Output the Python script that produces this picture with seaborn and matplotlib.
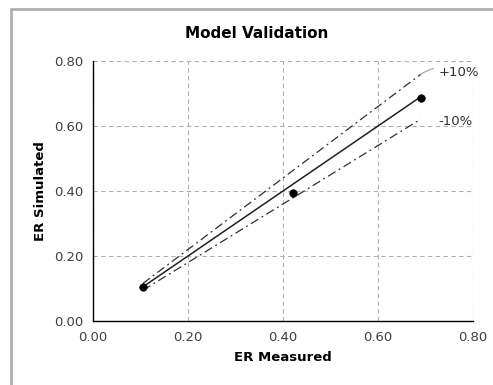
import matplotlib
matplotlib.use("Agg")
import matplotlib.pyplot as plt
import seaborn as sns
import pandas as pd
from matplotlib.patches import Rectangle

measured = [0.105, 0.42, 0.69]
simulated = [0.105, 0.395, 0.685]
line_x = [0.105, 0.69]
ticks = [0.0, 0.2, 0.4, 0.6, 0.8]
tick_labels = ["0.00", "0.20", "0.40", "0.60", "0.80"]

sns.set_style("white")
plt.rcParams['font.family'] = ['DejaVu Sans']

fig = plt.figure(figsize=(4.93, 3.85), dpi=100)
ax = fig.add_axes([93/493, 1-321/385, 380/493, 260/385])

# outer chart border
fig.patches.append(Rectangle((11/493, -0.2), 1.2, 1 - 9/385 + 0.2, transform=fig.transFigure,
                             fill=False, edgecolor="#b0b0b0", linewidth=2, zorder=-1))

df_pts = pd.DataFrame({"x": measured, "y": simulated})
df_line = pd.DataFrame({"x": line_x, "y": line_x})
df_up = pd.DataFrame({"x": line_x, "y": [v * 1.1 for v in line_x]})
df_dn = pd.DataFrame({"x": line_x, "y": [v * 0.9 for v in line_x]})

sns.lineplot(data=df_line, x="x", y="y", ax=ax, color="#202020", linewidth=1.1)
sns.lineplot(data=df_up, x="x", y="y", ax=ax, color="#303030", linewidth=0.9, linestyle=(0, (7, 3, 1.5, 3)))
sns.lineplot(data=df_dn, x="x", y="y", ax=ax, color="#303030", linewidth=0.9, linestyle=(0, (7, 3, 1.5, 3)))
sns.scatterplot(data=df_pts, x="x", y="y", ax=ax, color="black", s=30, edgecolor="black", zorder=5)

ax.set_xlim(0, 0.8)
ax.set_ylim(0, 0.8)
ax.set_xticks(ticks)
ax.set_xticklabels(tick_labels)
ax.set_yticks(ticks)
ax.set_yticklabels(tick_labels)
ax.grid(True, color="#b0b0b0", linestyle=(0, (4, 3)), linewidth=0.8)
ax.set_axisbelow(True)
for s in ["top", "right"]:
    ax.spines[s].set_visible(False)
for s in ["left", "bottom"]:
    ax.spines[s].set_color("#000000")
    ax.spines[s].set_linewidth(1.0)
ax.tick_params(axis="both", direction="out", length=4, width=0.8, colors="#000000",
               labelcolor="#404040", labelsize=9.5, pad=3)

ax.set_xlabel("ER Measured", fontsize=9.5, fontweight="bold", color="black", labelpad=5)
ax.set_ylabel("ER Simulated", fontsize=9.5, fontweight="bold", color="black", labelpad=5)
fig.text(257/493, 1 - 33/385, "Model Validation", fontsize=11, fontweight="bold",
         color="black", ha="center", va="center")

# leader line and labels
ax.annotate("+10%", xy=(0.69, 0.69 * 1.1), xytext=(0.727, 0.765), textcoords="data",
            fontsize=9.5, color="#303030", va="center", ha="left",
            arrowprops=dict(arrowstyle="-", color="#a0a0a0", linewidth=0.8,
                            connectionstyle="arc3,rad=0.3", shrinkA=1, shrinkB=0))
ax.text(0.727, 0.615, "-10%", fontsize=9.5, color="#303030", va="center", ha="left")

fig.savefig("out.png", dpi=100)
